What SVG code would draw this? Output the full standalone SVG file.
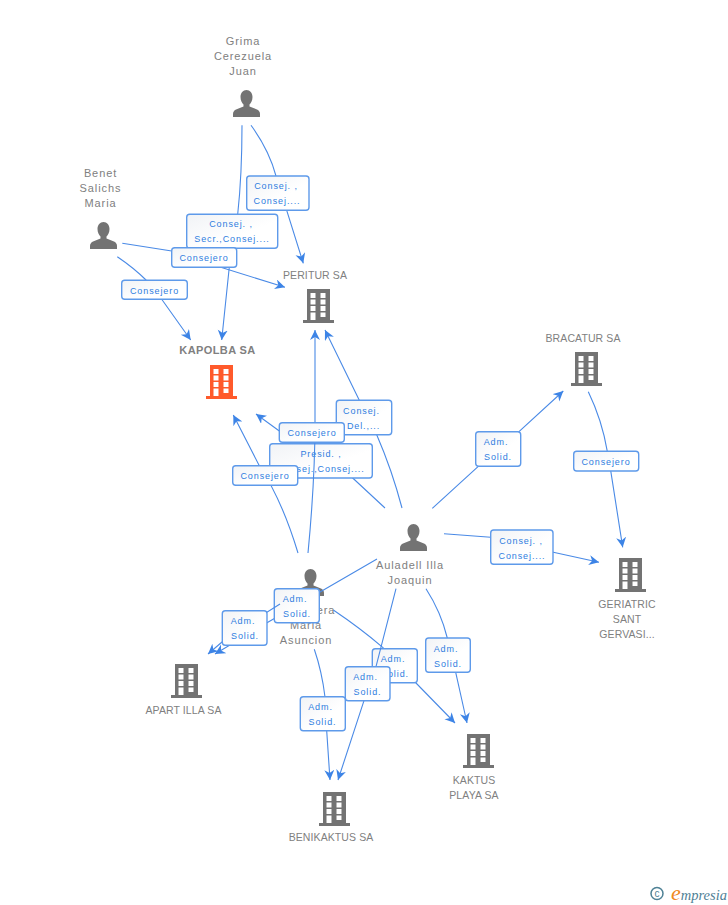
<svg xmlns="http://www.w3.org/2000/svg" width="728" height="905" viewBox="0 0 728 905">
<style>
text{font-family:"Liberation Sans",Arial,sans-serif}
.n{font-size:11px;fill:#808080;text-anchor:middle;letter-spacing:.9px}
.c{font-size:10.5px;fill:#808080;text-anchor:middle;letter-spacing:.1px}
.k{font-size:11px;font-weight:bold;fill:#808080;text-anchor:middle;letter-spacing:.4px}
.l{font-size:9px;fill:#2f7de0;text-anchor:middle;letter-spacing:.9px}
.b{fill:url(#g);stroke:#5e9aea;stroke-width:1.4}
.e{fill:none;stroke:#4a8ae6;stroke-width:1.1;marker-end:url(#a)}
.i{fill:#737373}
.o{fill:#ff5a2b}
</style>
<defs>
<linearGradient id="g" x1="0" y1="0" x2="1" y2="1"><stop offset="0" stop-color="#f1f3f6"/><stop offset=".6" stop-color="#fff"/></linearGradient>
<marker id="a" markerUnits="userSpaceOnUse" markerWidth="11" markerHeight="11" refX="10" refY="5" orient="auto"><path d="M0 0L10 5L0 10L3 5Z" fill="#3d84e6"/></marker>
<path id="bl" fill-rule="evenodd" d="M0 0H23V31H27V34H-4V31H0ZM3.500 4V9H8.500V4ZM13.500 4V9H18.500V4ZM3.500 10.500V15.500H8.500V10.500ZM13.500 10.500V15.500H18.500V10.500ZM3.500 17V22H8.500V17ZM13.500 17V22H18.500V17ZM3.500 23.500V31H8.500V23.500ZM13.500 23.500V28H18.500V23.500Z"/>
<path id="pe" d="M13.500 0C17 0 19.500 3 19.500 7C19.500 10.500 18 13 16.500 14.500V16.500L24 19.500C26 20.500 27 22 27 24V27H0V24C0 22 1 20.500 3 19.500L10.500 16.500V14.500C9 13 7.500 10.500 7.500 7C7.500 3 10 0 13.500 0Z"/>
</defs>

<g id="node-grima"><text class="n" x="243" y="45">Grima</text><text class="n" x="243" y="60">Cerezuela</text><text class="n" x="243" y="75">Juan</text><use href="#pe" class="i" x="233" y="90"/></g>
<g id="node-benet"><text class="n" x="100.500" y="177">Benet</text><text class="n" x="100.500" y="192">Salichs</text><text class="n" x="100.500" y="207">Maria</text><use href="#pe" class="i" x="90" y="222"/></g>
<g id="node-auladell"><use href="#pe" class="i" x="400" y="524"/><text class="n" x="410" y="569">Auladell Illa</text><text class="n" x="410" y="584">Joaquin</text></g>
<g id="node-asuncion"><use href="#pe" class="i" x="297" y="569"/><text class="n" x="326" y="614">era</text><text class="n" x="306" y="629">Maria</text><text class="n" x="306" y="644">Asuncion</text></g>
<g id="node-peritur"><text class="c" x="315" y="279">PERITUR SA</text><use href="#bl" class="i" x="307" y="289"/></g>
<g id="node-kapolba"><text class="k" x="217.500" y="354">KAPOLBA SA</text><use href="#bl" class="o" x="210" y="365"/></g>
<g id="node-bracatur"><text class="c" x="583" y="342">BRACATUR SA</text><use href="#bl" class="i" x="575" y="352"/></g>
<g id="node-geriatric"><use href="#bl" class="i" x="619" y="558"/><text class="c" x="627" y="608">GERIATRIC</text><text class="c" x="627" y="623">SANT</text><text class="c" x="627" y="638">GERVASI...</text></g>
<g id="node-apart"><use href="#bl" class="i" x="175" y="664"/><text class="c" x="183.500" y="714">APART ILLA SA</text></g>
<g id="node-benikaktus"><use href="#bl" class="i" x="323" y="792"/><text class="c" x="331" y="841">BENIKAKTUS SA</text></g>
<g id="node-kaktus"><use href="#bl" class="i" x="467" y="734"/><text class="c" x="474" y="784">KAKTUS</text><text class="c" x="474" y="799">PLAYA SA</text></g>

<g id="connectors">
<path class="e" d="M251 125.300Q269 150 276 176L286.700 210.300L303.300 263.300"/>
<rect class="b" x="246.700" y="176" width="62.300" height="34.300" rx="3"/><text class="l" x="276" y="189">Consej. ,</text><text class="l" x="277" y="204">Consej....</text>
<path class="e" d="M242 125.300Q242 175 237.700 214.300L229.300 267L221.700 340"/>
<rect class="b" x="186.700" y="214.300" width="91" height="34" rx="3"/><text class="l" x="231" y="227">Consej. ,</text><text class="l" x="232" y="242">Secr.,Consej....</text>
<path class="e" d="M122.300 243.300L171.700 251Q195 256 220 267L285 287.300"/>
<rect class="b" x="171.700" y="247.700" width="65" height="19.500" rx="3"/><text class="l" x="204" y="261">Consejero</text>
<path class="e" d="M117.300 256.700Q134 268 146 280L161.700 299.300L190.700 340"/>
<rect class="b" x="121.700" y="280.300" width="65.600" height="19" rx="3"/><text class="l" x="154.500" y="293.500">Consejero</text>

<path class="e" d="M402 508Q392 470 376.700 434.700L359.300 400.300L325 330"/>
<rect class="b" x="336.300" y="400.300" width="55.400" height="34.400" rx="3"/><text class="l" x="361.500" y="414">Consej.</text><text class="l" x="363.500" y="429">Del.,...</text>
<path class="e" d="M385 508L352.700 478L312 445L279.300 431L256 414"/>
<rect class="b" x="269.700" y="443.700" width="102.600" height="34.300" rx="3"/><text class="l" x="321" y="457">Presid. ,</text><text class="l" x="321" y="472">Consej.,Consej....</text>
<path class="e" d="M308 553Q315 480 315 422L315 330"/>
<rect class="b" x="279.300" y="422.700" width="65" height="19.600" rx="3"/><text class="l" x="312" y="436">Consejero</text>
<path class="e" d="M298 553Q282 500 259.300 465.700L233.300 415"/>
<rect class="b" x="232.700" y="465.700" width="65" height="19.600" rx="3"/><text class="l" x="265" y="479">Consejero</text>

<path class="e" d="M377 559L267 622.700L215 654"/>
<rect class="b" x="274.300" y="588.700" width="45" height="34" rx="3"/><text class="l" x="295" y="602">Adm.</text><text class="l" x="297" y="617">Solid.</text>
<path class="e" d="M280 604L229 636L208 654"/>
<rect class="b" x="222.300" y="610.700" width="44.700" height="34.600" rx="3"/><text class="l" x="243" y="624">Adm.</text><text class="l" x="245" y="639">Solid.</text>

<path class="e" d="M333.300 610Q360 628 382.700 647.300L416 683L455 723"/>
<rect class="b" x="372.300" y="648.700" width="45" height="34" rx="3"/><text class="l" x="393" y="662">Adm.</text><text class="l" x="395" y="677">Solid.</text>
<path class="e" d="M396 588.700L376 666.700L364 700.700L338 780"/>
<rect class="b" x="345.300" y="666.700" width="44.700" height="34" rx="3"/><text class="l" x="365.500" y="680">Adm.</text><text class="l" x="367.500" y="695">Solid.</text>
<path class="e" d="M314.300 649.300Q322 672 325 697L326.700 730.700L330 780"/>
<rect class="b" x="300.300" y="696.700" width="45" height="34" rx="3"/><text class="l" x="320.500" y="710">Adm.</text><text class="l" x="322.500" y="725">Solid.</text>
<path class="e" d="M426 588.700Q441 612 447.300 638L455.700 672.300L467 723"/>
<rect class="b" x="425.700" y="638" width="44.600" height="34.300" rx="3"/><text class="l" x="446" y="651.500">Adm.</text><text class="l" x="448" y="666.500">Solid.</text>

<path class="e" d="M432.300 508.300L478.300 466.300L519 431.700L563.300 391"/>
<rect class="b" x="475.700" y="431.700" width="45" height="34.600" rx="3"/><text class="l" x="496" y="445">Adm.</text><text class="l" x="498" y="460">Solid.</text>
<path class="e" d="M444 533.700L490.700 537.300L553.300 552.300L599 562.300"/>
<rect class="b" x="490.700" y="530" width="62.300" height="34.300" rx="3"/><text class="l" x="521" y="543.500">Consej. ,</text><text class="l" x="522" y="558.500">Consej....</text>
<path class="e" d="M588.300 391.700Q602 420 607.300 451.300L610.700 470.700L622.700 547.300"/>
<rect class="b" x="573.700" y="451.300" width="65" height="19.700" rx="3"/><text class="l" x="606" y="465">Consejero</text>
</g>

<g id="logo"><circle cx="657" cy="893.500" r="6" fill="none" stroke="#4f8296" stroke-width="1.500"/><text x="657" y="897" font-size="10" text-anchor="middle" fill="#4f8296">c</text><text x="671" y="900" style="font-family:'Liberation Serif',serif;font-style:italic" font-size="14.500" fill="#4f7f96"><tspan font-size="22" fill="#f08a1d">e</tspan>mpresia</text></g>
</svg>
